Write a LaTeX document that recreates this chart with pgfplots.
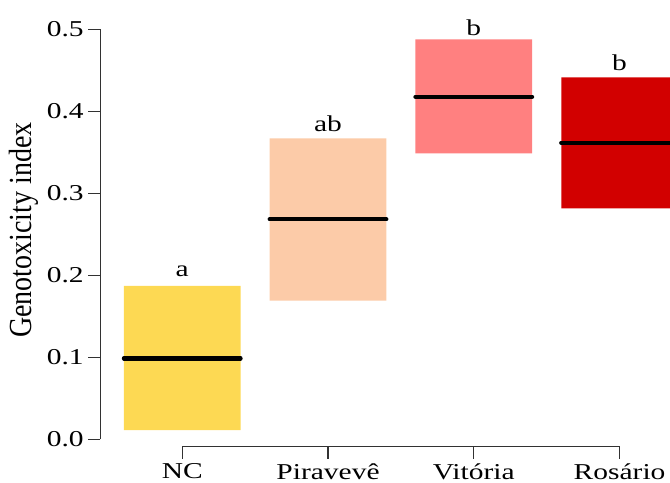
\documentclass[border=0pt]{standalone}
\usepackage{fontspec}
\usepackage{graphicx}
\setmainfont{Liberation Serif}
\newfontfamily\stretchfont{Liberation Serif}[FakeStretch=1.3]
\usepackage{pgfplots}
\pgfplotsset{compat=1.18}
\definecolor{cNC}{RGB}{253,217,83}
\definecolor{cPir}{RGB}{252,203,168}
\definecolor{cVit}{RGB}{255,128,128}
\definecolor{cRos}{RGB}{210,0,0}
\definecolor{axgray}{RGB}{50,50,50}
\begin{document}
\begin{tikzpicture}
\begin{axis}[
  scale only axis, width=427.1pt, height=334.9pt,
  xmin=-0.5616, xmax=3.3459, ymin=-0.0088, ymax=0.5357,
  axis x line*=bottom, axis y line*=left,
  axis line style={draw=none},
  clip mode=individual,
  xtick={0,1,2,3}, xticklabels={NC,Piravevê,Vitória,Rosário},
  ytick={0,0.1,0.2,0.3,0.4,0.5},
  yticklabel style={/pgf/number format/fixed,/pgf/number format/fixed zerofill,/pgf/number format/precision=1},
  /pgf/number format/assume math mode=true,
  tick align=outside, major tick length=9pt,
  tick style={color=axgray, line width=0.9pt},
  ticklabel style={font=\stretchfont\fontsize{17}{19}\selectfont, text=black},
  ylabel={\scalebox{1}[1.15]{Genotoxicity index}},
  every axis y label/.style={at={(rel axis cs:-0.1341,0.4849)}, rotate=90, anchor=center, font=\fontsize{21}{24}\selectfont},
]
% boxes (lower, upper)
\addplot[fill=cNC, draw=none] coordinates {(-0.4,0.0113) (0.4,0.0113) (0.4,0.1873) (-0.4,0.1873) (-0.4,0.0113)};
\addplot[fill=cPir, draw=none] coordinates {(0.6,0.1693) (1.4,0.1693) (1.4,0.3670) (0.6,0.3670) (0.6,0.1693)};
\addplot[fill=cVit, draw=none] coordinates {(1.6,0.3488) (2.4,0.3488) (2.4,0.4878) (1.6,0.4878) (1.6,0.3488)};
\addplot[fill=cRos, draw=none] coordinates {(2.6,0.2817) (3.4,0.2817) (3.4,0.4415) (2.6,0.4415) (2.6,0.2817)};
% medians
\addplot[black, line width=3.2pt, line cap=round] coordinates {(-0.4,0.0988) (0.4,0.0988)};
\addplot[black, line width=3.2pt, line cap=round] coordinates {(0.6,0.2683) (1.4,0.2683)};
\addplot[black, line width=3.2pt, line cap=round] coordinates {(1.6,0.4178) (2.4,0.4178)};
\addplot[black, line width=3.2pt, line cap=round] coordinates {(2.6,0.3617) (3.4,0.3617)};
% group letters
\node[font=\stretchfont\fontsize{17}{19}\selectfont, anchor=base, inner sep=0pt] at (axis cs:0,0.1985) {a};
\node[font=\stretchfont\fontsize{17}{19}\selectfont, anchor=base, inner sep=0pt] at (axis cs:1,0.3751) {ab};
\node[font=\stretchfont\fontsize{17}{19}\selectfont, anchor=base, inner sep=0pt] at (axis cs:2,0.4930) {b};
\node[font=\stretchfont\fontsize{17}{19}\selectfont, anchor=base, inner sep=0pt] at (axis cs:3,0.4503) {b};
% R-style axis lines
\draw[axgray, line width=0.9pt] (axis cs:-0.5616,0) -- (axis cs:-0.5616,0.5);
\draw[axgray, line width=0.9pt] (axis cs:0,-0.0088) -- (axis cs:3,-0.0088);
\coordinate (bbl) at (axis cs:-1.25,-0.0521);
\coordinate (btr) at (axis cs:3.3459,0.5357);
\end{axis}
\pgfresetboundingbox
\path[use as bounding box] (bbl) rectangle (btr);
\end{tikzpicture}
\end{document}
